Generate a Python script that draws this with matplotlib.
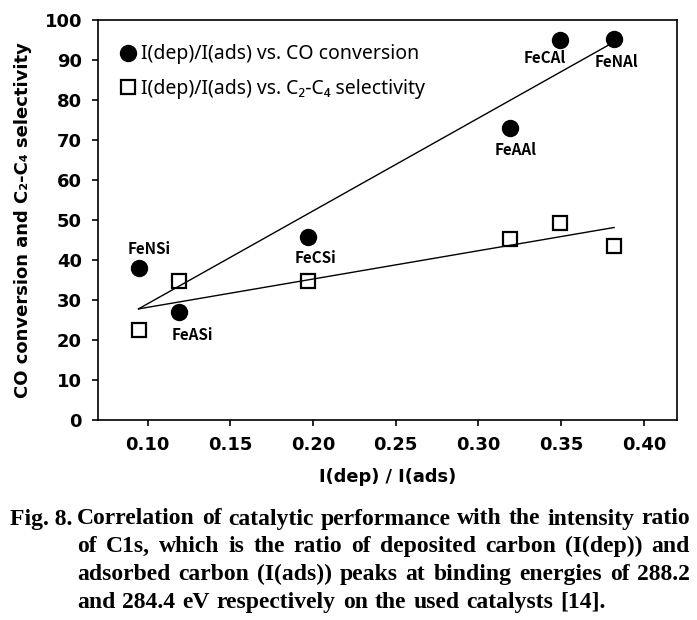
import numpy as np
import matplotlib
matplotlib.use("Agg")
import matplotlib.pyplot as plt

# values
ratio = [0.0945, 0.119, 0.197, 0.319, 0.349, 0.382]
co_conversion = [37.9, 27.1, 45.8, 73.0, 95.0, 95.3]
selectivity = [22.5, 34.7, 34.7, 45.2, 49.3, 43.5]
catalysts = ["FeNSi", "FeASi", "FeCSi", "FeAAl", "FeCAl", "FeNAl"]
xticks = [0.10, 0.15, 0.20, 0.25, 0.30, 0.35, 0.40]
yticks = list(range(0, 101, 10))

# label offsets from the circles, in pixels
label_offsets = [(11, 19), (13, -23), (7, -21), (6, -22), (-15, -18), (2, -23)]

caption = [
    ("Correlation of catalytic performance with the intensity ratio", True),
    ("of C1s, which is the ratio of deposited carbon (I(dep)) and", True),
    ("adsorbed carbon (I(ads)) peaks at binding energies of 288.2", True),
    ("and 284.4 eV respectively on the used catalysts [14].", False),
]

W, H = 697, 620
fig = plt.figure(figsize=(W / 100, H / 100), dpi=100)
ax = fig.add_axes([98 / W, 1 - 420 / H, 579 / W, 400 / H])

x = np.array(ratio)
xs = np.array([x.min(), x.max()])

circ, = ax.plot(x, co_conversion, "o", color="black", ms=11.5, zorder=3,
                label="I(dep)/I(ads) vs. CO conversion")
sq, = ax.plot(x, selectivity, "s", mfc="white", mec="black", ms=9.5, mew=1.6,
              zorder=3, label="I(dep)/I(ads) vs. C\u2082-C\u2084 selectivity")

for y in (co_conversion, selectivity):
    k, b = np.polyfit(x, y, 1)
    ax.plot(xs, k * xs + b, color="black", lw=1.0, zorder=4)

for name, xi, yi, off in zip(catalysts, ratio, co_conversion, label_offsets):
    ax.annotate(name, (xi, yi), xytext=off, textcoords="offset pixels",
                ha="center", va="center", fontsize=11, fontweight="bold",
                family=["Noto Sans CJK KR", "DejaVu Sans"])

ax.set_xlim(0.07, 0.42)
ax.set_ylim(0, 100)
ax.set_xticks(xticks)
ax.set_yticks(yticks)
ax.set_xticklabels([f"{t:.2f}" for t in xticks])
ax.tick_params(direction="out", length=4.5, width=1.2, pad=7, labelsize=13)
for lab in ax.get_xticklabels() + ax.get_yticklabels():
    lab.set_fontweight("bold")
for s in ax.spines.values():
    s.set_linewidth(1.2)

ax.set_xlabel("I(dep) / I(ads)", fontsize=12.8, fontweight="bold", labelpad=10)
ax.set_ylabel("CO conversion and C\u2082-C\u2084 selectivity", fontsize=13,
              fontweight="bold", labelpad=9)

ax.legend(handles=[circ, sq], loc="center left", bbox_to_anchor=(0.01, 0.871),
          frameon=False, handlelength=0.7, handletextpad=0.3, labelspacing=0.75,
          prop={"family": ["Noto Sans", "DejaVu Sans"], "size": 14})

# caption, justified like the journal text
serif = dict(family="Liberation Serif", fontweight="bold", fontsize=17, va="center")
fig.text(10 / W, 1 - 519 / H, "Fig. 8.", **serif)
renderer = fig.canvas.get_renderer()

left, right = 77, 690
for i, (line, justify) in enumerate(caption):
    y = 1 - (519 + 27.7 * i) / H
    words = line.split()
    texts = [fig.text(0, y, w, **serif) for w in words]
    widths = [t.get_window_extent(renderer).width for t in texts]
    gap = (right - left - sum(widths)) / (len(words) - 1) if justify else 7
    pos = left
    for t, w in zip(texts, widths):
        t.set_x(pos / W)
        pos += w + gap

fig.savefig("out.png", dpi=100)
